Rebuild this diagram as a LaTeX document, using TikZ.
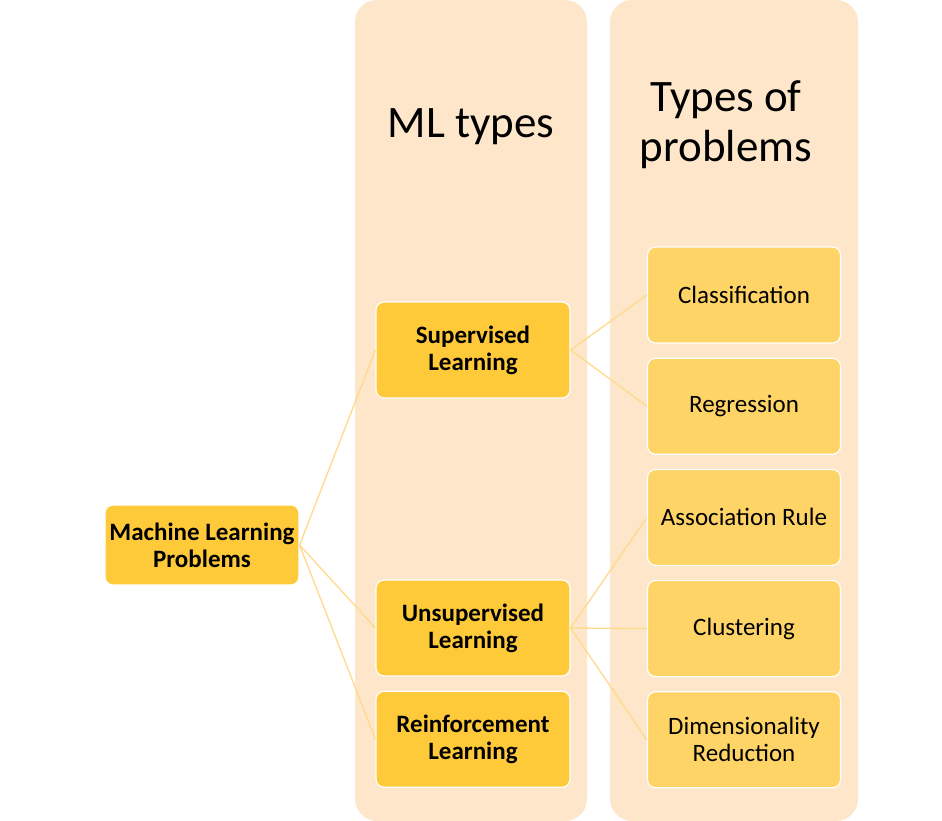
\documentclass[tikz,border=0pt]{standalone}
\usepackage{fontspec}
\setmainfont{Carlito}
\usepackage{xcolor}
\usepackage{tikz}
\usetikzlibrary{positioning}
\definecolor{colbg}{HTML}{FDE6C9}
\definecolor{gold}{HTML}{FFCA3A}
\definecolor{lightgold}{HTML}{FFD466}
\definecolor{linkcol}{HTML}{FFD98C}

\begin{document}
\begin{tikzpicture}[x=1pt,y=-1pt,
        typebox/.style={draw=white,line width=1.2pt,fill=gold,rounded corners=8pt,
            minimum width=194pt,minimum height=96pt,align=center,
            font=\fontsize{25}{27}\selectfont\bfseries},
        probbox/.style={draw=white,line width=1.2pt,fill=lightgold,rounded corners=8pt,
            minimum width=193pt,minimum height=96pt,align=center,
            font=\fontsize{25}{27}\selectfont},
        link/.style={linkcol,line width=1.3pt},
        header/.style={align=center,font=\fontsize{45}{50}\selectfont}]
        \useasboundingbox (0,0) rectangle (942,821);

        % Column backgrounds
        \fill[colbg,rounded corners=22pt] (355,0) rectangle (587,821);
        \fill[colbg,rounded corners=22pt] (610,0) rectangle (858,821);

        \node[header] (hdrtypes) at (471,127) {ML types};
        \node[header] (hdrprob) at (726,125) {Types of\\problems};

        % Root
        \node[typebox,minimum height=80pt] (root) at (202,545) {Machine Learning\\Problems};

        % ML types
        \node[typebox] (sup) at (473,350) {Supervised\\Learning};
        \node[typebox] (unsup) at (473,628) {Unsupervised\\Learning};
        \node[typebox,below=14pt of unsup] (reinf) {Reinforcement\\Learning};

        % Types of problems
        \node[probbox] (clas) at (744,295) {Classification};
        \node[probbox,below=14pt of clas] (regr) {Regression};
        \node[probbox,below=14pt of regr] (assoc) {Association Rule};
        \node[probbox,below=14pt of assoc] (clus) {Clustering};
        \node[probbox,below=14pt of clus] (dimred) {Dimensionality\\Reduction};

        % Links
        \foreach \t in {sup,unsup,reinf} {
            \draw[link] (root.east) -- (\t.west);
        }
        \foreach \t in {clas,regr} {
            \draw[link] (sup.east) -- (\t.west);
        }
        \foreach \t in {assoc,clus,dimred} {
            \draw[link] (unsup.east) -- (\t.west);
        }

    \end{tikzpicture}
\end{document}
